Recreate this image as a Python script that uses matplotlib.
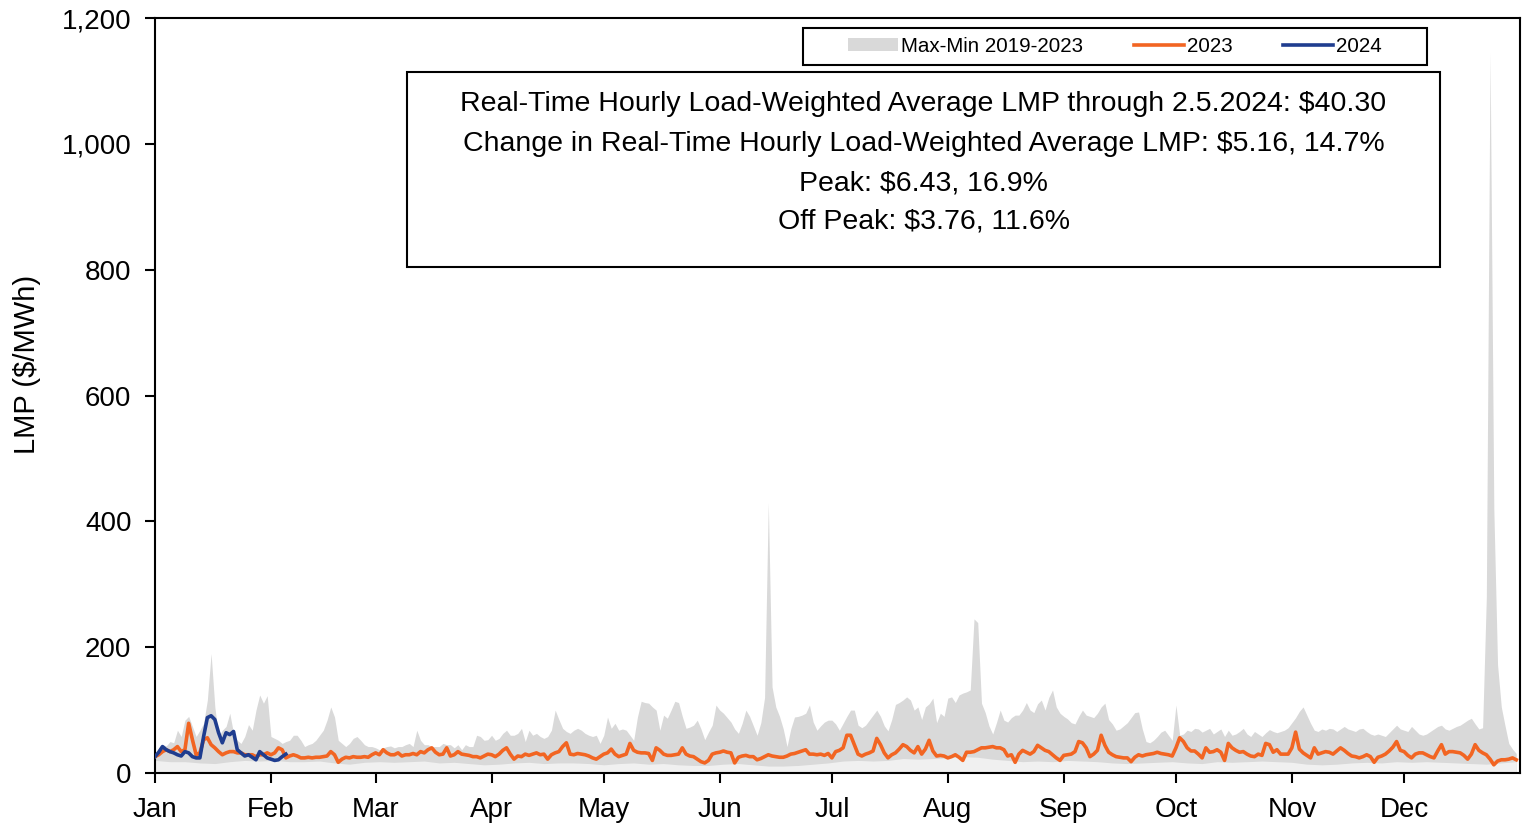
import numpy as np
import matplotlib
matplotlib.use("Agg")
import matplotlib.pyplot as plt
from matplotlib import font_manager as fm
from matplotlib.patches import Rectangle, Patch
from matplotlib.lines import Line2D
from matplotlib.ticker import FuncFormatter

# ---------------- data ----------------
month_labels = ["Jan", "Feb", "Mar", "Apr", "May", "Jun", "Jul", "Aug", "Sep", "Oct", "Nov", "Dec"]
month_start_days = [0, 31, 59, 90, 120, 151, 181, 212, 243, 273, 304, 334]

# 2023 daily real-time load-weighted LMP ($/MWh), by month
lmp_2023_jan = [26, 29, 34, 37, 34, 37, 42, 34, 37, 79, 53, 29, 32, 53, 56, 45, 40, 34, 29, 32, 34, 34, 32, 32, 29, 29, 29, 26, 29, 29, 32]
lmp_2023_feb = [29, 32, 40, 37, 24, 27, 29, 27, 24, 24, 25, 24, 25, 25, 26, 27, 34, 29, 17, 22, 25, 24, 26, 25, 25, 26, 25, 29]
lmp_2023_mar = [32, 29, 37, 32, 29, 29, 32, 27, 29, 29, 31, 29, 34, 32, 37, 40, 33, 29, 30, 40, 27, 29, 34, 30, 29, 28, 26, 26, 24, 27, 30]
lmp_2023_apr = [29, 26, 30, 36, 40, 30, 22, 27, 26, 30, 28, 30, 32, 29, 30, 22, 29, 32, 34, 42, 48, 30, 29, 31, 30, 29, 27, 24, 22, 26]
lmp_2023_may = [30, 32, 38, 30, 26, 28, 30, 47, 36, 33, 32, 32, 31, 20, 40, 36, 30, 28, 28, 29, 30, 40, 30, 27, 26, 22, 18, 16, 20, 30, 32]
lmp_2023_jun = [33, 35, 33, 32, 16, 25, 27, 28, 26, 26, 21, 23, 26, 29, 27, 26, 25, 25, 27, 30, 31, 33, 35, 37, 30, 30, 29, 30, 28, 31]
lmp_2023_jul = [24, 34, 36, 40, 60, 60, 45, 30, 27, 30, 32, 35, 55, 45, 32, 24, 29, 32, 38, 45, 42, 36, 32, 42, 30, 38, 52, 35, 27, 28, 27]
lmp_2023_aug = [24, 26, 29, 25, 20, 33, 33, 34, 37, 40, 40, 41, 42, 40, 40, 37, 27, 29, 17, 30, 36, 33, 30, 34, 44, 40, 36, 34, 29, 24, 20]
lmp_2023_sep = [28, 29, 30, 34, 50, 48, 40, 26, 30, 36, 60, 44, 33, 29, 26, 25, 24, 24, 18, 25, 29, 27, 29, 30, 31, 33, 31, 30, 29, 27]
lmp_2023_oct = [40, 56, 50, 40, 35, 35, 30, 24, 40, 33, 34, 37, 33, 20, 47, 40, 36, 33, 34, 30, 27, 26, 30, 28, 47, 45, 33, 37, 30, 30, 30]
lmp_2023_nov = [40, 65, 38, 32, 28, 24, 40, 30, 32, 34, 33, 30, 35, 40, 36, 31, 27, 26, 24, 26, 29, 26, 17, 25, 27, 30, 35, 41, 50, 36]
lmp_2023_dec = [34, 28, 24, 30, 32, 32, 29, 26, 24, 35, 45, 30, 34, 34, 33, 32, 28, 22, 30, 45, 36, 32, 29, 22, 13, 19, 21, 21, 22, 24, 21]

# 2019-2023 daily maximum, by month
max_jan = [31, 40, 45, 43, 50, 48, 68, 58, 84, 90, 74, 58, 68, 79, 116, 190, 105, 58, 68, 74, 95, 63, 52, 47, 58, 77, 68, 100, 124, 111, 123]
max_feb = [58, 55, 52, 47, 50, 52, 60, 60, 52, 42, 45, 47, 52, 60, 68, 84, 105, 89, 52, 47, 42, 47, 55, 58, 52, 45, 42, 42]
max_mar = [40, 37, 40, 42, 43, 40, 42, 42, 45, 47, 42, 68, 52, 45, 45, 42, 42, 42, 47, 45, 45, 40, 45, 37, 45, 42, 42, 60, 58, 52, 53]
max_apr = [60, 52, 55, 63, 68, 60, 60, 63, 71, 50, 68, 60, 63, 58, 55, 58, 68, 100, 85, 71, 66, 63, 68, 71, 68, 63, 60, 58, 60, 47]
max_may = [60, 89, 71, 79, 68, 70, 68, 60, 52, 89, 114, 112, 111, 105, 100, 68, 92, 87, 100, 114, 112, 90, 71, 73, 76, 84, 70, 53, 65, 76, 108]
max_jun = [100, 95, 88, 81, 70, 63, 79, 100, 90, 75, 60, 80, 120, 430, 137, 105, 90, 70, 42, 70, 89, 90, 92, 95, 108, 81, 68, 75, 81, 84]
max_jul = [84, 78, 68, 79, 90, 100, 100, 76, 72, 76, 84, 92, 100, 90, 75, 67, 85, 109, 112, 116, 121, 116, 100, 105, 85, 105, 110, 119, 80, 95, 90]
max_aug = [119, 121, 112, 124, 127, 129, 132, 245, 239, 111, 96, 75, 62, 80, 100, 84, 81, 88, 92, 92, 100, 112, 100, 96, 110, 116, 100, 120, 132, 105, 95]
max_sep = [90, 86, 80, 78, 90, 100, 92, 90, 88, 95, 105, 111, 85, 78, 68, 70, 75, 80, 88, 96, 97, 70, 50, 48, 52, 58, 65, 68, 60, 52]
max_oct = [108, 60, 62, 68, 66, 71, 70, 65, 68, 71, 62, 66, 70, 58, 68, 60, 62, 66, 71, 62, 58, 66, 62, 58, 64, 69, 66, 64, 66, 68, 72]
max_nov = [80, 88, 98, 105, 92, 79, 68, 66, 70, 68, 71, 70, 66, 70, 74, 70, 68, 66, 70, 71, 66, 62, 60, 62, 60, 58, 64, 70, 76, 70]
max_dec = [68, 66, 74, 68, 62, 60, 62, 66, 70, 74, 76, 70, 68, 71, 74, 76, 80, 84, 87, 78, 70, 72, 280, 1145, 420, 172, 105, 75, 47, 38, 31]

# 2019-2023 minimum, read every 4 days
min_days = [0, 4, 8, 12, 16, 20, 24, 28, 32, 36, 40, 44, 48, 52, 56, 60, 64, 68, 72, 76, 80, 84, 88, 92,
            96, 100, 104, 108, 112, 116, 120, 124, 128, 132, 136, 140, 144, 148, 152, 156, 160, 164, 168,
            172, 176, 180, 184, 188, 192, 196, 200, 204, 208, 212, 216, 220, 224, 228, 232, 236, 240, 244,
            248, 252, 256, 260, 264, 268, 272, 276, 280, 284, 288, 292, 296, 300, 304, 308, 312, 316, 320,
            324, 328, 332, 336, 340, 344, 348, 352, 356, 360, 364]
min_vals = [20, 18, 18, 16, 15, 18, 20, 19, 20, 18, 18, 19, 16, 14, 17, 18, 17, 18, 19, 16, 17, 15, 13, 14,
            16, 17, 15, 16, 16, 15, 13, 15, 16, 14, 15, 13, 12, 12, 14, 15, 13, 11, 11,
            12, 14, 16, 19, 20, 19, 20, 23, 22, 23, 24, 26, 25, 22, 20, 18, 19, 18, 20,
            19, 18, 16, 15, 16, 17, 18, 16, 15, 18, 17, 18, 19, 18, 17, 14, 13, 14, 16,
            17, 16, 18, 17, 18, 17, 16, 15, 14, 16, 18]

# 2024 daily values through Feb 5
lmp_2024 = [26, 33, 42, 37, 34, 32, 29, 27, 34, 32, 26, 24, 24, 58, 88, 91, 85, 64, 48, 64, 61, 66, 37, 32,
            27, 29, 25, 21, 34, 29, 24, 22, 20, 21, 26, 30]

box_lines = [
    "Real-Time Hourly Load-Weighted Average LMP through 2.5.2024: $40.30",
    "Change in Real-Time Hourly Load-Weighted Average LMP: $5.16, 14.7%",
    "Peak: $6.43, 16.9%",
    "Off Peak: $3.76, 11.6%",
]
legend_labels = ["Max-Min 2019-2023", "2023", "2024"]

lmp_2023 = (lmp_2023_jan + lmp_2023_feb + lmp_2023_mar + lmp_2023_apr + lmp_2023_may + lmp_2023_jun +
            lmp_2023_jul + lmp_2023_aug + lmp_2023_sep + lmp_2023_oct + lmp_2023_nov + lmp_2023_dec)
max_vals = (max_jan + max_feb + max_mar + max_apr + max_may + max_jun +
            max_jul + max_aug + max_sep + max_oct + max_nov + max_dec)
days = np.arange(len(lmp_2023))
days_2024 = np.arange(len(lmp_2024))

# ---------------- fonts ----------------
names = {f.name for f in fm.fontManager.ttflist}
narrow_ok = "Liberation Sans Narrow" in names
narrow = "Liberation Sans Narrow" if narrow_ok else "Liberation Sans"
regular = "Liberation Sans"
tick_fs = 22 if narrow_ok else 20
box_fs = 24 if narrow_ok else 20.5
leg_fs = 18 if narrow_ok else 14.8

# ---------------- figure ----------------
W, H = 1522, 825
fig = plt.figure(figsize=(W / 100, H / 100), dpi=100)
fig.patch.set_facecolor("white")
ax = fig.add_axes([155 / W, 1 - 773 / H, 1365 / W, 755 / H])

c_gray = "#d9d9d9"
c_light = "#f0f0f0"
c_orange = "#f26522"
c_blue = "#1f3d8f"

ax.fill_between(days, 0, max_vals, color=c_gray, lw=0, zorder=1)
ax.fill_between(min_days, 0, min_vals, color=c_light, lw=0, zorder=2)
ax.plot(days, lmp_2023, color=c_orange, lw=2.6, zorder=3)
ax.plot(days_2024, lmp_2024, color=c_blue, lw=2.6, zorder=4)

ax.set_xlim(0, 365)
ax.set_ylim(0, 1200)
ax.set_yticks(np.arange(0, 1201, 200))
ax.yaxis.set_major_formatter(FuncFormatter(lambda v, p: f"{int(v):,}"))
ax.set_xticks(month_start_days)
ax.set_xticklabels(month_labels)

for sp in ax.spines.values():
    sp.set_linewidth(1.5)
    sp.set_color("black")

ax.tick_params(axis="both", direction="out", length=7, width=1.5, color="black")
ax.tick_params(axis="x", pad=10)
ax.tick_params(axis="y", pad=10)
for lab in ax.get_xticklabels() + ax.get_yticklabels():
    lab.set_fontfamily(narrow)
    lab.set_fontsize(tick_fs)

fig.text(27 / W, 1 - 364.5 / H, "LMP ($/MWh)", rotation=90, ha="center", va="center",
         fontsize=21, family=regular)

# info box
bx0, bx1 = (407 - 155) / 1365, (1440 - 155) / 1365
by0, by1 = (773 - 267) / 755, (773 - 72) / 755
ax.add_patch(Rectangle((bx0, by0), bx1 - bx0, by1 - by0, transform=ax.transAxes,
                       facecolor="white", edgecolor="black", lw=1.5, zorder=5))
line_y = [104, 144, 183, 222]
for txt, yy in zip(box_lines, line_y):
    ax.text((bx0 + bx1) / 2, (773 - yy) / 755, txt, transform=ax.transAxes, ha="center", va="center",
            fontsize=box_fs, family=narrow, zorder=6)

# legend
lx0, lx1 = (803 - 155) / 1365, (1427 - 155) / 1365
ly0, ly1 = (773 - 65) / 755, (773 - 28) / 755
ax.add_patch(Rectangle((lx0, ly0), lx1 - lx0, ly1 - ly0, transform=ax.transAxes,
                       facecolor="white", edgecolor="black", lw=1.5, zorder=5))
handles = [Patch(facecolor=c_gray, edgecolor="none"),
           Line2D([], [], color=c_orange, lw=2.6),
           Line2D([], [], color=c_blue, lw=2.6)]
leg = ax.legend(handles, legend_labels, loc="center", bbox_to_anchor=((lx0 + lx1) / 2, (ly0 + ly1) / 2),
                ncol=3, frameon=False, prop={"family": narrow, "size": leg_fs},
                handlelength=2.45, handleheight=0.6, handletextpad=0.15, columnspacing=2.45,
                borderaxespad=0)
leg.set_zorder(7)

fig.savefig("out.png", dpi=100)
